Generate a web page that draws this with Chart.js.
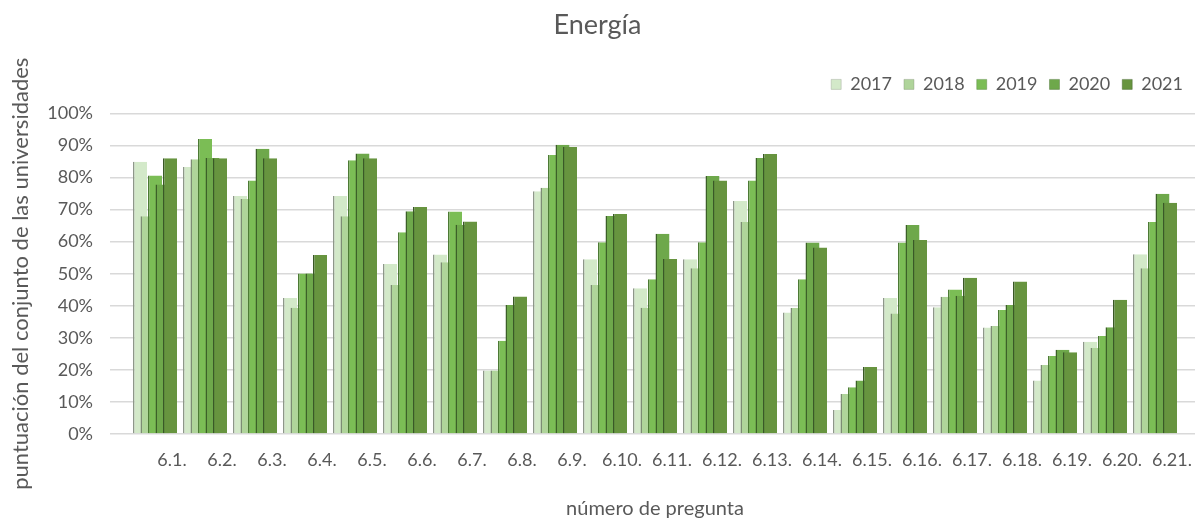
<!DOCTYPE html>
<html>
<head>
<meta charset="utf-8">
<script src="https://cdn.jsdelivr.net/npm/chart.js@4.4.0/dist/chart.umd.min.js"></script>
<style>
  body { margin: 0; background: #fff; }
  #wrap { width: 1198px; height: 521px; }
</style>
</head>
<body>
<div id="wrap"><canvas id="energia_chart"></canvas></div>
<script>
const preguntas = ['6.1.', '6.2.', '6.3.', '6.4.', '6.5.', '6.6.', '6.7.', '6.8.', '6.9.', '6.10.', '6.11.',
    '6.12.', '6.13.', '6.14.', '6.15.', '6.16.', '6.17.', '6.18.', '6.19.', '6.20.', '6.21.']
const years = ['2017', '2018', '2019', '2020', '2021']

// puntuación en %
const v2017 = [84.9, 83.3, 74.2, 42.4, 74.2, 53.0, 56.0, 19.8, 75.7, 54.5, 45.5, 54.5, 72.7, 37.9, 7.5, 42.4, 39.5, 33.2, 16.7, 28.8, 56.1]
const v2018 = [67.9, 85.7, 73.3, 39.4, 67.9, 46.5, 53.6, 19.8, 76.8, 46.5, 39.4, 51.7, 66.1, 39.3, 12.5, 37.6, 42.8, 33.7, 21.5, 26.8, 51.7]
const v2019 = [80.6, 92.0, 79.1, 50.1, 85.4, 62.9, 69.4, 29.1, 87.0, 59.8, 48.3, 59.8, 79.1, 48.3, 14.6, 59.7, 45.1, 38.7, 24.3, 30.6, 66.1]
const v2020 = [77.8, 86.1, 89.0, 50.1, 87.5, 69.5, 65.3, 40.2, 90.2, 68.0, 62.5, 80.5, 86.1, 59.7, 16.7, 65.2, 43.1, 40.2, 26.3, 33.3, 74.9]
const v2021 = [86.0, 86.0, 86.0, 55.8, 86.0, 70.8, 66.3, 42.9, 89.5, 68.6, 54.6, 79.1, 87.3, 58.2, 20.9, 60.5, 48.7, 47.6, 25.5, 41.9, 72.1]

const yTicks = [0, 10, 20, 30, 40, 50, 60, 70, 80, 90, 100]

const fills = ['#d3e9c9', '#afd49a', '#7bbd55', '#6ea84b', '#67943f']
const edges = ['#8e978a', '#7c8b74', '#4d7a35', '#3d6029', '#3a5827']
const values = [v2017, v2018, v2019, v2020, v2021]

const textGrey = '#595959'
const gridGrey = '#d9d9d9'
const fontName = 'Lato'

// later years are drawn on top of earlier ones (bars overlap like in Excel)
const drawInOrder = {
    id: 'drawInOrder',
    beforeDatasetsDraw(chart) {
        chart.data.datasets.forEach((ds, i) => chart._drawDataset(chart.getDatasetMeta(i)))
        return false
    }
}

const datasets = years.map((y, i) => ({
    label: y,
    data: values[i],
    backgroundColor: fills[i],
    borderColor: edges[i],
    borderWidth: { left: 1.5, top: 0, right: 0, bottom: 0 },
    borderSkipped: false,
    categoryPercentage: 0.75,
    barPercentage: 1.867,
    xAxisID: 'x',
    yAxisID: 'y'
}))

const ctx = document.getElementById('energia_chart').getContext('2d')
new Chart(ctx, {
    type: 'bar',
    data: { labels: preguntas, datasets: datasets },
    plugins: [drawInOrder],
    options: {
        responsive: true,
        maintainAspectRatio: false,
        animation: false,
        layout: { padding: { left: 0, right: 3, top: 0, bottom: 0 } },
        plugins: {
            title: {
                display: true,
                text: 'Energía',
                color: textGrey,
                font: { family: fontName, size: 27, weight: 'normal' },
                padding: { top: 9, bottom: 22 }
            },
            legend: {
                position: 'top',
                align: 'end',
                labels: {
                    color: textGrey,
                    font: { family: fontName, size: 18 },
                    boxWidth: 10,
                    boxHeight: 10,
                    padding: 12
                }
            },
            tooltip: { enabled: false }
        },
        scales: {
            x: {
                type: 'category',
                position: 'bottom',
                grid: { display: false, drawTicks: false },
                border: { display: false },
                ticks: {
                    color: textGrey,
                    font: { family: fontName, size: 18 },
                    labelOffset: 17,
                    padding: 15,
                    maxRotation: 0,
                    autoSkip: false
                },
                title: {
                    display: true,
                    text: 'número de pregunta',
                    color: textGrey,
                    font: { family: fontName, size: 20 },
                    padding: { top: 0, bottom: 0 }
                },
                afterFit(scale) { scale.height = 87 }
            },
            xTop: {
                type: 'category',
                position: 'top',
                grid: { display: false, drawTicks: false },
                border: { display: false },
                ticks: { display: false },
                afterFit(scale) { scale.height = 10 }
            },
            y: {
                type: 'linear',
                position: 'left',
                min: 0,
                max: 100,
                afterBuildTicks(scale) { scale.ticks = yTicks.map(v => ({ value: v })) },
                grid: { color: gridGrey, lineWidth: 1.5, drawTicks: true, tickLength: 20 },
                border: { display: false },
                ticks: {
                    color: textGrey,
                    font: { family: fontName, size: 18 },
                    padding: 17,
                    callback: v => v + '%'
                },
                title: {
                    display: true,
                    text: 'puntuación del conjunto de las universidades',
                    color: textGrey,
                    font: { family: fontName, size: 22 },
                    padding: { top: 8, bottom: 0 }
                },
                afterFit(scale) { scale.width = 130 }
            },
            yRight: {
                type: 'linear',
                position: 'right',
                min: 0,
                max: 100,
                afterBuildTicks(scale) { scale.ticks = yTicks.map(v => ({ value: v })) },
                grid: { color: gridGrey, lineWidth: 1.5, drawOnChartArea: false, drawTicks: true, tickLength: 15 },
                border: { display: false },
                ticks: { display: false },
                afterFit(scale) { scale.width = 15 }
            }
        }
    }
})
</script>
</body>
</html>
